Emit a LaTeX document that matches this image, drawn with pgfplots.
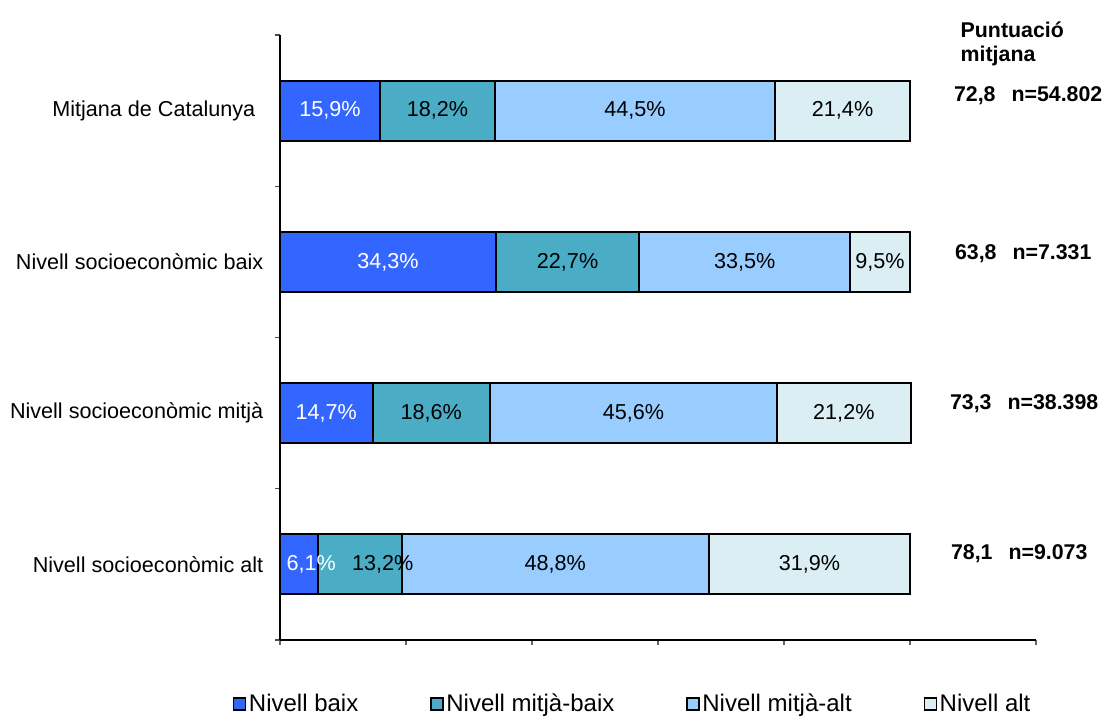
\documentclass[border=0pt]{standalone}
\usepackage{pgfplots}
\usepackage{pgfplotstable}
\pgfplotsset{compat=1.18}
\usepackage{fontspec}
\setmainfont{Liberation Sans}
\definecolor{cBaix}{HTML}{3366FF}
\definecolor{cMB}{HTML}{4BACC6}
\definecolor{cMA}{HTML}{99CCFF}
\definecolor{cAlt}{HTML}{DAEEF3}
\pgfplotstableread{
x y dx
6.1 0 9
14.7 1 0
34.3 2 0
15.9 3 0
}\baix
\pgfplotstableread{
x y dx
13.2 0 17
18.6 1 0
22.7 2 0
18.2 3 0
}\mitjabaix
\pgfplotstableread{
x y dx
48.8 0 0
45.6 1 0
33.5 2 0
44.5 3 0
}\mitjaalt
\pgfplotstableread{
x y dx
31.9 0 0
21.2 1 0
9.5 2 0
21.4 3 0
}\alt
\begin{document}
\begin{tikzpicture}[x=1pt,y=1pt]
\useasboundingbox (-210,-57.75) rectangle (620.25,480);
\begin{axis}[
  at={(0,0)}, anchor=south west,
  scale only axis, width=567pt, height=453.75pt,
  xbar stacked, bar width=45pt,
  xmin=0, xmax=120, ymin=-0.5, ymax=3.5,
  axis lines*=left,
  axis line style={black, line width=0.9pt},
  xtick={0,20,...,120}, xticklabels={},
  ytick={-0.5,0.5,1.5,2.5,3.5}, yticklabels={},
  tick align=outside,
  major tick length=4pt,
  xtick style={black!60, line width=0.8pt},
  ytick style={black!70, line width=0.8pt},
  extra y ticks={0,1,2,3},
  extra y tick labels={Nivell socioecon\`omic alt, Nivell socioecon\`omic mitj\`a, Nivell socioecon\`omic baix, Mitjana de Catalunya\kern6pt},
  extra y tick style={major tick length=0pt, yticklabel style={xshift=-9pt}},
  yticklabel style={font=\fontsize{16.2}{19}\selectfont, anchor=east},
  /pgf/number format/assume math mode=true,
  visualization depends on={\thisrow{dx} \as \dxv},
  nodes near coords={\pgfmathprintnumber[use comma,fixed,fixed zerofill,precision=1]{\pgfplotspointmeta}\%},
  every node near coord/.append style={anchor=center, font=\fontsize{16.2}{19}\selectfont, xshift=\dxv pt},
  clip=false,
  legend columns=4,
  legend style={at={(0.467,-0.106)}, anchor=center, draw=none, font=\fontsize{18}{21}\selectfont,
    /tikz/every even column/.append style={column sep=52pt}},
  legend image code/.code={\draw[#1,draw=black,line width=1pt] (0pt,-4.5pt) rectangle (9pt,4.5pt);},
]
\addplot[fill=cBaix, draw=black, line width=1.4pt, every node near coord/.append style={text=white}] table[x=x, y=y, meta=x] {\baix};
\addplot[fill=cMB, draw=black, line width=1.4pt] table[x=x, y=y, meta=x] {\mitjabaix};
\addplot[fill=cMA, draw=black, line width=1.4pt] table[x=x, y=y, meta=x] {\mitjaalt};
\addplot[fill=cAlt, draw=black, line width=1.4pt] table[x=x, y=y, meta=x] {\alt};
\legend{Nivell baix, Nivell mitj\`a-baix, Nivell mitj\`a-alt, Nivell alt}
\end{axis}
\node[anchor=base west, align=left, font=\bfseries\fontsize{16}{18}\selectfont] at (507,434) {Puntuació\\mitjana};
\node[anchor=base west, font=\bfseries\fontsize{16}{19}\selectfont] at (502,404) {72,8\hspace{12pt}n=54.802};
\node[anchor=base west, font=\bfseries\fontsize{16}{19}\selectfont] at (502.75,285) {63,8\hspace{12pt}n=7.331};
\node[anchor=base west, font=\bfseries\fontsize{16}{19}\selectfont] at (499,173) {73,3\hspace{12pt}n=38.398};
\node[anchor=base west, font=\bfseries\fontsize{16}{19}\selectfont] at (499.75,60.5) {78,1\hspace{12pt}n=9.073};
\end{tikzpicture}
\end{document}
